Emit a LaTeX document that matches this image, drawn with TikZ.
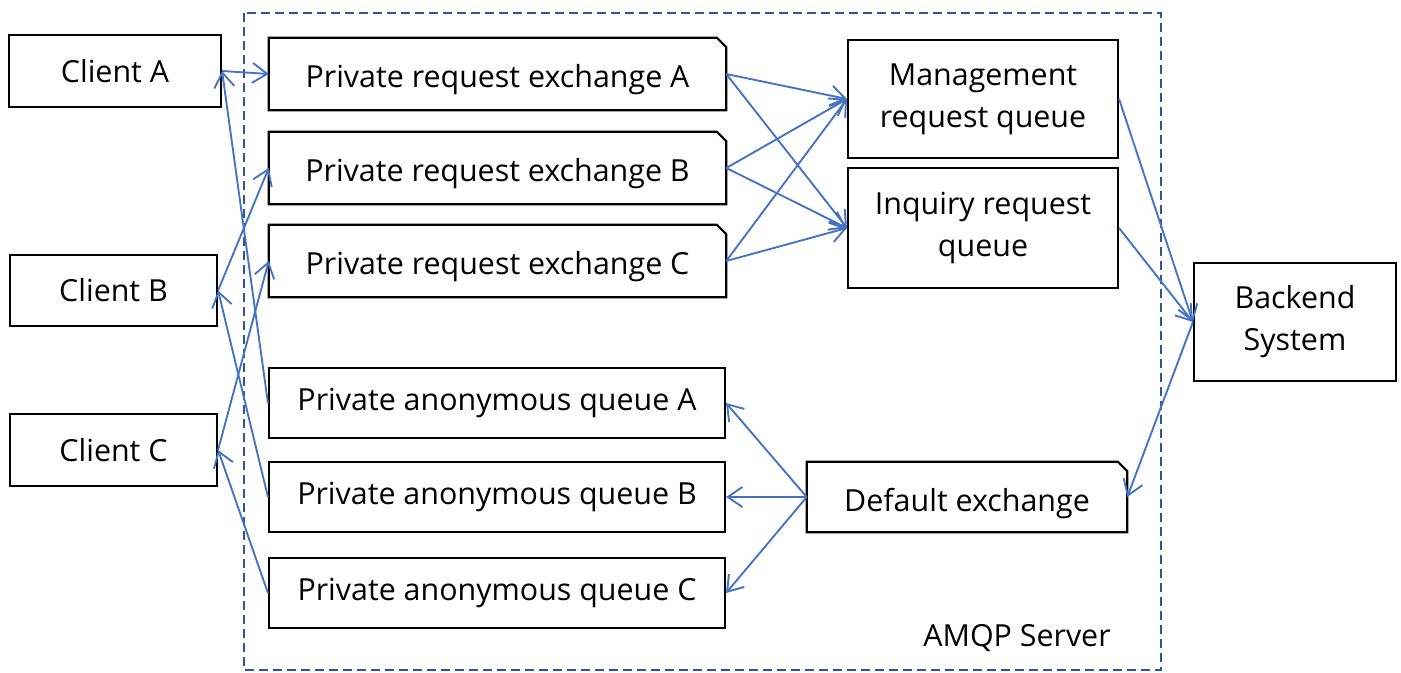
\documentclass[tikz,border=0pt]{standalone}
\usepackage{fontspec}
\setmainfont{Open Sans}
\usetikzlibrary{arrows.meta}
\definecolor{arrowblue}{RGB}{68,114,196}
\definecolor{dashblue}{RGB}{47,85,151}
\begin{document}
\begin{tikzpicture}[x=0.75pt,y=-0.75pt,
  txt/.style={inner sep=0pt,align=center,font=\fontsize{22.8}{31.5}\selectfont},
  box/.style={txt,draw=black,line width=1.6pt},
  foldbox/.style={txt,draw=none,text height=24pt,text depth=3pt},
  conn/.style={draw=arrowblue,line width=1.4pt,-{Straight Barb[length=11pt,width=15pt,line width=1.4pt]}},
  fold/.style={draw=black,line width=1.6pt,line join=miter},
  server/.style={draw=dashblue,line width=1.5pt,dash pattern=on 6.5pt off 4pt}]
\useasboundingbox (0,0) rectangle (1401,673);
% AMQP server frame
\draw[server] (244,13) rectangle (1161,670);
\node[txt] (amqp) at (1017,638) {AMQP Server};
% clients
\node[box,minimum width=159pt,minimum height=54pt] (clA) at (115,71) {Client A};
\node[box,minimum width=155.25pt,minimum height=53.25pt] (clB) at (113.5,290.5) {Client B};
\node[box,minimum width=155.25pt,minimum height=54pt] (clC) at (113.5,450) {Client C};
% exchanges
\node[foldbox,minimum width=342.75pt,minimum height=54pt] (exA) at (497.5,74) {Private request exchange A};
\node[foldbox,minimum width=342.75pt,minimum height=54pt] (exB) at (497.5,168) {Private request exchange B};
\node[foldbox,minimum width=342.75pt,minimum height=54pt] (exC) at (497.5,261) {Private request exchange C};
\node[foldbox,minimum width=240pt,minimum height=52.5pt] (defx) at (967,497) {Default exchange};
\foreach \n in {exA,exB,exC,defx}{
  \draw[fold] (\n.south west) -- (\n.north west) -- ([xshift=-7pt]\n.north east)
     -- ([yshift=-7pt]\n.north east) -- (\n.south east) -- cycle;
}
% queues
\node[box,minimum width=342pt,minimum height=52.5pt] (qA) at (497,403) {Private anonymous queue A};
\node[box,minimum width=342pt,minimum height=52.5pt] (qB) at (497,497) {Private anonymous queue B};
\node[box,minimum width=342pt,minimum height=52.5pt] (qC) at (497,593) {Private anonymous queue C};
\node[box,minimum width=202.5pt,minimum height=88.5pt] (mgmt) at (983,99) {Management\\request queue};
\node[box,minimum width=202.5pt,minimum height=90pt] (inq) at (983,228) {Inquiry request\\queue};
% backend
\node[box,minimum width=151.5pt,minimum height=88.5pt] (back) at (1295,322) {Backend\\System};
% connectors
\draw[conn] (clA.east) -- (exA.west);
\draw[conn] (clB.east) -- (exB.west);
\draw[conn] (clC.east) -- (exC.west);
\draw[conn] (qA.west) -- (clA.east);
\draw[conn] (qB.west) -- (clB.east);
\draw[conn] (qC.west) -- (clC.east);
\foreach \e in {exA,exB,exC}{
  \draw[conn] (\e.east) -- (mgmt.west);
  \draw[conn] (\e.east) -- (inq.west);
}
\draw[conn] (mgmt.east) -- (back.west);
\draw[conn] (inq.east) -- (back.west);
\draw[conn] (back.west) -- (defx.east);
\draw[conn] (defx.west) -- (qA.east);
\draw[conn] (defx.west) -- (qB.east);
\draw[conn] (defx.west) -- (qC.east);
\end{tikzpicture}
\end{document}
